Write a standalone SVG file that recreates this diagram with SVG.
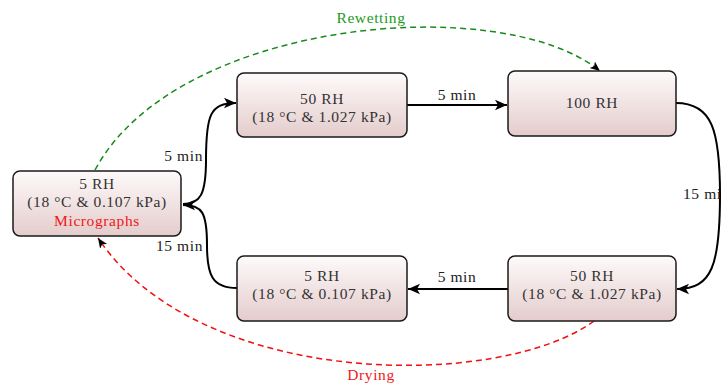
<svg xmlns="http://www.w3.org/2000/svg" width="721" height="383" viewBox="0 0 721 383">
<defs>
<linearGradient id="g" x1="0" y1="0" x2="0" y2="1">
<stop offset="0" stop-color="#fefafa"/>
<stop offset="1" stop-color="#e4cccc"/>
</linearGradient>
<marker id="ah" markerUnits="userSpaceOnUse" markerWidth="14" markerHeight="12" refX="12" refY="6" orient="auto">
<path d="M0,0.8 L12,6 L0,11.2 L3,6 Z" fill="#000"/>
</marker>
<marker id="ahs" markerUnits="userSpaceOnUse" markerWidth="12" markerHeight="10" refX="10" refY="5" orient="auto">
<path d="M0,0.8 L10,5 L0,9.2 L2.5,5 Z" fill="#000"/>
</marker>
</defs>
<style>
.box{fill:url(#g);stroke:#1a1a1a;stroke-width:1.5}
text{font-family:"Liberation Serif","DejaVu Serif",serif;font-size:15.5px;letter-spacing:0.6px;fill:#333;text-anchor:middle}
.lbl{fill:#222}
.c{fill:none;stroke:#000;stroke-width:2}
.gd{fill:none;stroke:#1a8a1a;stroke-width:1.5;stroke-dasharray:6,4}
.rd{fill:none;stroke:#f01010;stroke-width:1.5;stroke-dasharray:6,4}
</style>
<g id="connectors">
<path class="gd" d="M95,170 C175,20 500,-10 600,71" marker-end="url(#ahs)"/>
<path class="rd" d="M594,321 C500,390 200,390 98,238" marker-end="url(#ahs)"/>
<path class="c" d="M183,204 C200,204 206,195 206,160 C206,115 210,103 236,103" marker-end="url(#ah)"/>
<path class="c" d="M237,288 C212,288 207,275 207,245 C207,212 202,205 183,205" marker-end="url(#ah)"/>
<path class="c" d="M407,105 L507,105" marker-end="url(#ah)"/>
<path class="c" d="M508,289 L408,289" marker-end="url(#ah)"/>
<path class="c" d="M676,103 C712,103 720,130 720,195 C720,265 712,289 677,289" marker-end="url(#ah)"/>
<text class="lbl" x="457" y="100">5 min</text>
<text class="lbl" x="457" y="282">5 min</text>
<text class="lbl" x="203" y="161" style="text-anchor:end">5 min</text>
<text class="lbl" x="203" y="251" style="text-anchor:end">15 min</text>
<text class="lbl" x="683" y="199" style="text-anchor:start">15 min</text>
<text x="371" y="23" style="fill:#1a9a1a">Rewetting</text>
<text x="371" y="380" style="fill:#f01818">Drying</text>
</g>
<g id="n1">
<rect class="box" x="13" y="171" width="168" height="65" rx="7"/>
<text x="97" y="189">5 RH</text>
<text x="97" y="207">(18 °C &amp; 0.107 kPa)</text>
<text x="97" y="226" style="fill:#f01818">Micrographs</text>
</g>
<g id="n2">
<rect class="box" x="237" y="73" width="170" height="64" rx="7"/>
<text x="322" y="104">50 RH</text>
<text x="322" y="122">(18 °C &amp; 1.027 kPa)</text>
</g>
<g id="n3">
<rect class="box" x="508" y="71" width="168" height="65" rx="7"/>
<text x="592" y="108">100 RH</text>
</g>
<g id="n4">
<rect class="box" x="237" y="256" width="170" height="65" rx="7"/>
<text x="322" y="281">5 RH</text>
<text x="322" y="299">(18 °C &amp; 0.107 kPa)</text>
</g>
<g id="n5">
<rect class="box" x="508" y="256" width="168" height="65" rx="7"/>
<text x="592" y="281">50 RH</text>
<text x="592" y="299">(18 °C &amp; 1.027 kPa)</text>
</g>
</svg>
